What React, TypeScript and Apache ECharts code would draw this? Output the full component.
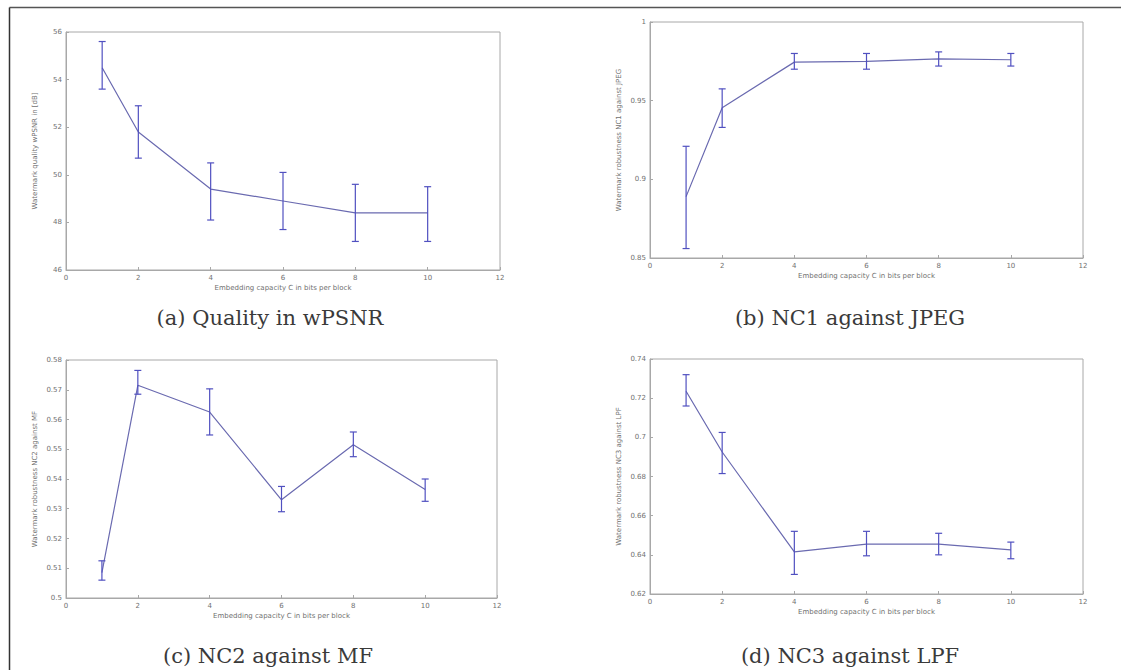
import React, { useEffect, useRef } from "react";
import * as echarts from "echarts";

const capacity = [1, 2, 4, 6, 8, 10];

const wpsnrMean = [54.5, 51.8, 49.4, 48.9, 48.4, 48.4];
const wpsnrLow = [53.6, 50.7, 48.1, 47.7, 47.2, 47.2];
const wpsnrHigh = [55.6, 52.9, 50.5, 50.1, 49.6, 49.5];

const nc1Mean = [0.889, 0.9455, 0.9745, 0.975, 0.9765, 0.976];
const nc1Low = [0.856, 0.933, 0.970, 0.970, 0.972, 0.972];
const nc1High = [0.921, 0.9575, 0.980, 0.980, 0.981, 0.980];

const nc2Mean = [0.5085, 0.5715, 0.5625, 0.533, 0.5515, 0.5365];
const nc2Low = [0.506, 0.5685, 0.5548, 0.529, 0.5475, 0.5325];
const nc2High = [0.5125, 0.5765, 0.5703, 0.5375, 0.5558, 0.540];

const nc3Mean = [0.7235, 0.6925, 0.6415, 0.6455, 0.6455, 0.6425];
const nc3Low = [0.716, 0.6815, 0.630, 0.6395, 0.640, 0.638];
const nc3High = [0.732, 0.7025, 0.652, 0.652, 0.651, 0.6465];

const xTitle = "Embedding capacity C in bits per block";
const yTitles = [
  "Watermark quality wPSNR in [dB]",
  "Watermark robustness NC1 against JPEG",
  "Watermark robustness NC2 against MF",
  "Watermark robustness NC3 against LPF",
];
const captions = [
  "(a) Quality in wPSNR",
  "(b) NC1 against JPEG",
  "(c) NC2 against MF",
  "(d) NC3 against LPF",
];
const yRanges = [
  { min: 46, max: 56, interval: 2 },
  { min: 0.85, max: 1, interval: 0.05 },
  { min: 0.5, max: 0.58, interval: 0.01 },
  { min: 0.62, max: 0.74, interval: 0.02 },
];

const panels = [
  { mean: wpsnrMean, low: wpsnrLow, high: wpsnrHigh },
  { mean: nc1Mean, low: nc1Low, high: nc1High },
  { mean: nc2Mean, low: nc2Low, high: nc2High },
  { mean: nc3Mean, low: nc3Low, high: nc3High },
];

const grids = [
  { left: 66, top: 32, width: 434, height: 238 },
  { left: 650, top: 22, width: 433, height: 236 },
  { left: 66, top: 360, width: 431, height: 238 },
  { left: 650, top: 359, width: 433, height: 235 },
];
const captionPos = [
  { x: 270, y: 318 },
  { x: 850, y: 318 },
  { x: 268, y: 656 },
  { x: 850, y: 656 },
];

const lineColor = "#6a6ab0";
const barColor = "#5050c0";
const axisColor = "#a8a8a8";
const textColor = "#707070";

export default function App() {
  const ref = useRef<HTMLDivElement>(null);
  useEffect(() => {
    if (!ref.current) return;
    const chart = echarts.init(ref.current, null, { renderer: "svg" });
    const xAxes: any[] = [];
    const yAxes: any[] = [];
    const series: any[] = [];
    panels.forEach((p, i) => {
      xAxes.push({
        gridIndex: i,
        type: "value",
        min: 0,
        max: 12,
        interval: 2,
        name: xTitle,
        nameLocation: "middle",
        nameGap: 14,
        nameTextStyle: { fontSize: 7, color: textColor, fontFamily: "DejaVu Sans" },
        axisLine: { lineStyle: { color: axisColor } },
        axisTick: { inside: true, length: 3, lineStyle: { color: axisColor } },
        axisLabel: { fontSize: 7, color: textColor, margin: 4, fontFamily: "DejaVu Sans" },
        splitLine: { show: false },
      });
      yAxes.push({
        gridIndex: i,
        type: "value",
        min: yRanges[i].min,
        max: yRanges[i].max,
        interval: yRanges[i].interval,
        name: yTitles[i],
        nameLocation: "middle",
        nameGap: 28,
        nameTextStyle: { fontSize: 7, color: textColor, fontFamily: "DejaVu Sans" },
        axisLine: { lineStyle: { color: axisColor } },
        axisTick: { inside: true, length: 3, lineStyle: { color: axisColor } },
        axisLabel: { fontSize: 7, color: textColor, margin: 4, fontFamily: "DejaVu Sans" },
        splitLine: { show: false },
      });
      series.push({
        type: "line",
        xAxisIndex: i,
        yAxisIndex: i,
        data: capacity.map((c, k) => [c, p.mean[k]]),
        showSymbol: false,
        symbol: "none",
        lineStyle: { color: lineColor, width: 1.2 },
        z: 3,
      });
      series.push({
        type: "custom",
        xAxisIndex: i,
        yAxisIndex: i,
        data: capacity.map((c, k) => [c, p.low[k], p.high[k]]),
        renderItem: (params: any, api: any) => {
          const x = api.value(0);
          const lo = api.coord([x, api.value(1)]);
          const hi = api.coord([x, api.value(2)]);
          const w = 3.5;
          const style = { stroke: barColor, lineWidth: 1.2 };
          return {
            type: "group",
            children: [
              { type: "line", shape: { x1: lo[0], y1: lo[1], x2: hi[0], y2: hi[1] }, style },
              { type: "line", shape: { x1: hi[0] - w, y1: hi[1], x2: hi[0] + w, y2: hi[1] }, style },
              { type: "line", shape: { x1: lo[0] - w, y1: lo[1], x2: lo[0] + w, y2: lo[1] }, style },
            ],
          };
        },
        z: 4,
      });
    });
    chart.setOption({
      animation: false,
      backgroundColor: "#ffffff",
      grid: grids.map((g) => ({
        ...g,
        show: true,
        borderColor: axisColor,
        borderWidth: 1,
        backgroundColor: "transparent",
      })),
      xAxis: xAxes,
      yAxis: yAxes,
      series,
      graphic: [
        { type: "line", shape: { x1: 9.5, y1: 7.5, x2: 1121, y2: 7.5 }, style: { stroke: "#555", lineWidth: 1.5 } },
        { type: "line", shape: { x1: 9.5, y1: 7.5, x2: 9.5, y2: 670 }, style: { stroke: "#333", lineWidth: 1.5 } },
        ...captions.map((t, i) => ({
          type: "text",
          x: captionPos[i].x,
          y: captionPos[i].y,
          style: {
            text: t,
            fontSize: 21,
            fontFamily: "DejaVu Serif",
            fill: "#3a3a3a",
            textAlign: "center",
            textVerticalAlign: "middle",
          },
        })),
      ],
    });
    return () => chart.dispose();
  }, []);
  return (
    <div
      ref={ref}
      style={{ position: "fixed", left: 0, top: 0, width: 1121, height: 670, background: "#fff" }}
    />
  );
}
